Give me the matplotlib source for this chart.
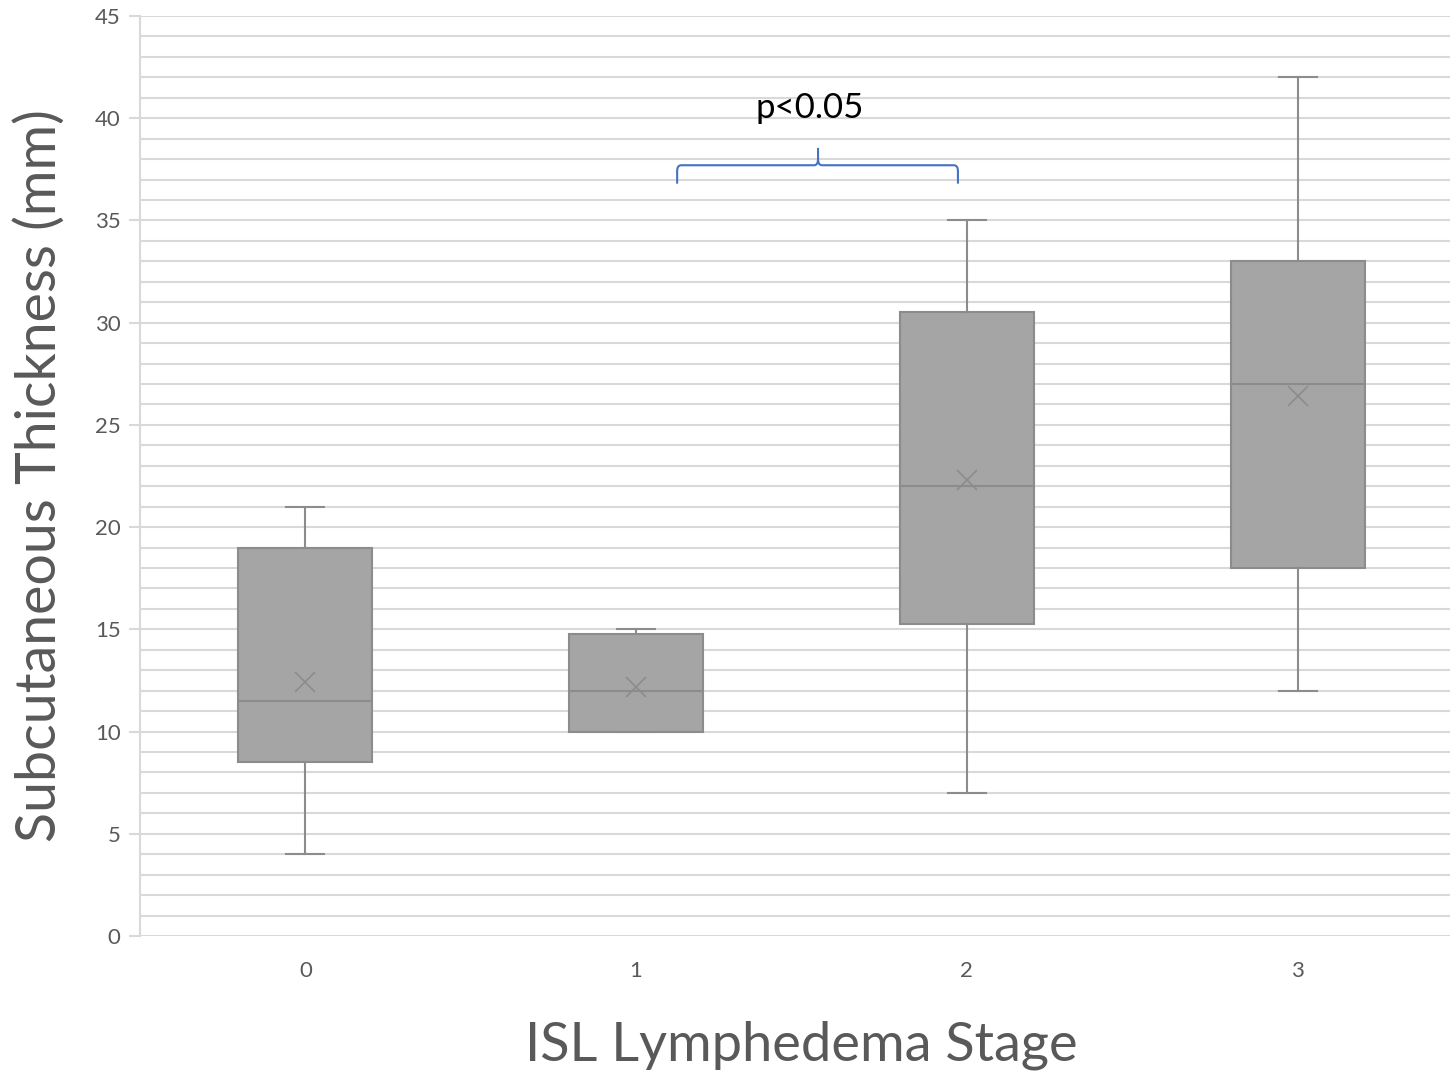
import numpy as np
import matplotlib
matplotlib.use("Agg")
import matplotlib.pyplot as plt
from matplotlib.path import Path
from matplotlib.patches import PathPatch
from matplotlib.ticker import MultipleLocator

# box plot summaries (mm)
stages = ["0", "1", "2", "3"]
whisk_lo = [4, 10, 7, 12]
q1 = [8.5, 10, 15.25, 18]
median = [11.5, 12, 22, 27]
q3 = [19, 14.75, 30.5, 33]
whisk_hi = [21, 15, 35, 42]
means = [12.4, 12.2, 22.3, 26.4]

plt.rcParams['font.family'] = ['Lato', 'DejaVu Sans']

fig = plt.figure(figsize=(14.5, 10.74), dpi=100)
ax = fig.add_axes([140 / 1450, 138 / 1074, 1323 / 1450, 920 / 1074])

stats = []
for i in range(len(stages)):
    stats.append(dict(label=stages[i], whislo=whisk_lo[i], q1=q1[i], med=median[i],
                      q3=q3[i], whishi=whisk_hi[i], mean=means[i], fliers=[]))

edge = "#8c8c8c"
ax.bxp(stats, positions=range(len(stages)), widths=0.405, patch_artist=True,
       showmeans=True, capwidths=0.115,
       boxprops=dict(facecolor="#a5a5a5", edgecolor=edge, linewidth=1.5),
       medianprops=dict(color=edge, linewidth=1.5),
       whiskerprops=dict(color=edge, linewidth=1.5),
       capprops=dict(color=edge, linewidth=1.5),
       meanprops=dict(marker="x", markersize=14, markeredgecolor=edge,
                      markeredgewidth=1.2), zorder=3)

ax.set_xlim(-0.5, 3.5)
ax.set_ylim(0, 45)
ax.yaxis.set_major_locator(MultipleLocator(5))
ax.yaxis.set_minor_locator(MultipleLocator(1))
ax.grid(True, which="both", axis="y", color="#d9d9d9", linewidth=1.5, zorder=0)
ax.set_axisbelow(True)
for s in ["top", "right", "bottom"]:
    ax.spines[s].set_visible(False)
ax.spines["left"].set_color("#d9d9d9")
ax.spines["left"].set_linewidth(1.5)
ax.tick_params(axis="y", which="major", length=8, width=1.5, color="#d9d9d9",
               labelsize=16, labelcolor="#595959", pad=6)
ax.tick_params(axis="y", which="minor", length=0)
ax.tick_params(axis="x", length=0, labelsize=16, labelcolor="#595959", pad=18)

ax.set_ylabel("Subcutaneous Thickness (mm)", fontsize=40, color="#595959")
ax.yaxis.set_label_coords(-0.056, 0.5)
ax.set_xlabel("ISL Lymphedema Stage", fontsize=39, color="#595959")
ax.xaxis.set_label_coords(0.5, -0.092)

# significance bracket between stage 1 and 2
x0, x1, xm = 1.124, 1.973, 1.55
yb, ye, yt = 37.7, 36.8, 38.55
r = 0.012
verts = [(x0, ye), (x0, yb - 0.3), (x0, yb), (x0 + r, yb),
         (xm - r, yb), (xm, yb), (xm, yb + 0.3), (xm, yt),
         (xm, yb + 0.3), (xm, yb), (xm + r, yb),
         (x1 - r, yb), (x1, yb), (x1, yb - 0.3), (x1, ye)]
codes = [Path.MOVETO, Path.LINETO, Path.CURVE3, Path.CURVE3,
         Path.LINETO, Path.CURVE3, Path.CURVE3, Path.LINETO,
         Path.MOVETO, Path.CURVE3, Path.CURVE3,
         Path.LINETO, Path.CURVE3, Path.CURVE3, Path.LINETO]
ax.add_patch(PathPatch(Path(verts, codes), fill=False, edgecolor="#4472c4",
                       linewidth=1.5, zorder=4))
ax.text(1.525, 40.5, "p<0.05", ha="center", va="center", fontsize=25,
        color="black", zorder=4)

fig.savefig("out.png", dpi=100)
